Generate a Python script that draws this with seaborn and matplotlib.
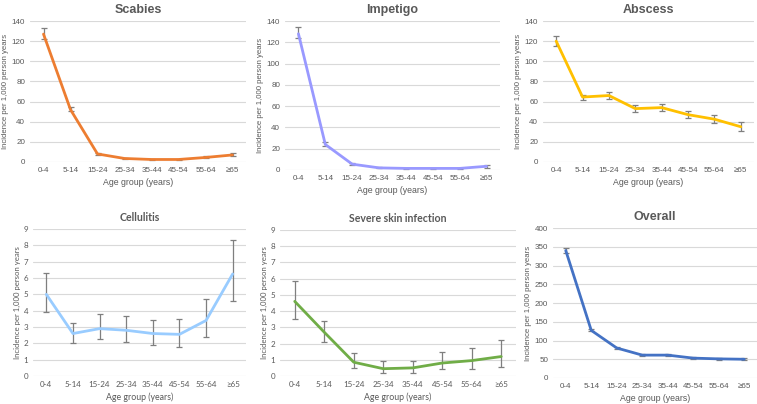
import pandas as pd
import matplotlib
matplotlib.use("Agg")
import matplotlib.pyplot as plt
import seaborn as sns

# Age groups shared by all panels
age_groups = ["0-4", "5-14", "15-24", "25-34", "35-44", "45-54", "55-64", "≥65"]

# Incidence per 1,000 person years, with lower / upper 95% CI
scabies = [127, 52, 8, 3.5, 2.5, 2.5, 4.5, 7]
scabies_lo = [122, 50.5, 7, 3, 2, 2, 3.8, 6]
scabies_hi = [133, 55, 9, 4.2, 3, 3, 5.5, 8.5]

impetigo = [128, 24, 5.5, 2, 1.5, 1.5, 1.5, 3.5]
impetigo_lo = [124, 23, 5, 1.7, 1.2, 1.2, 1.1, 2.3]
impetigo_hi = [134, 26, 6.2, 2.4, 1.8, 1.8, 2, 5]

abscess = [120, 64.5, 66, 53, 54, 47, 42.5, 35]
abscess_lo = [115, 62, 63, 50, 51, 44, 39, 31]
abscess_hi = [125, 67, 70, 57, 58, 51, 47, 40]

cellulitis = [5.0, 2.6, 2.9, 2.8, 2.6, 2.55, 3.4, 6.25]
cellulitis_lo = [3.9, 2.0, 2.25, 2.1, 1.9, 1.8, 2.4, 4.6]
cellulitis_hi = [6.3, 3.25, 3.8, 3.7, 3.45, 3.5, 4.7, 8.3]

severe = [4.6, 2.7, 0.85, 0.45, 0.5, 0.8, 0.95, 1.2]
severe_lo = [3.5, 2.1, 0.5, 0.2, 0.2, 0.45, 0.45, 0.55]
severe_hi = [5.85, 3.4, 1.4, 0.9, 0.95, 1.45, 1.75, 2.25]

overall = [340, 127, 80, 61, 61, 53, 51, 50]
overall_lo = [333, 125, 77, 59, 59, 51, 49, 48]
overall_hi = [347, 130, 83, 63, 63, 55, 53, 53]

W, H = 757, 404
fig = plt.figure(figsize=(W / 100, H / 100), dpi=100)
sns.set_style("white")

arial = ["Liberation Sans", "DejaVu Sans"]
calibri = ["Lato", "DejaVu Sans"]
grey = "#595959"

# title, values, lo, hi, colour, (left, right, top, bottom) in px, ymax, ystep, font, title size
panels = [
    ("Scabies", scabies, scabies_lo, scabies_hi, "#ED7D31", (30, 246, 21, 162), 140, 20, arial, 9),
    ("Impetigo", impetigo, impetigo_lo, impetigo_hi, "#9999FF", (285, 500, 21, 170), 140, 20, arial, 9),
    ("Abscess", abscess, abscess_lo, abscess_hi, "#FFC000", (543, 754, 21, 162), 140, 20, arial, 9),
    ("Cellulitis", cellulitis, cellulitis_lo, cellulitis_hi, "#99CCFF", (33, 246, 229, 376), 9, 1, calibri, 7.6),
    ("Severe skin infection", severe, severe_lo, severe_hi, "#70AD47", (280, 516, 230, 376), 9, 1, calibri, 7.6),
    ("Overall", overall, overall_lo, overall_hi, "#4472C4", (553, 757, 228, 378), 400, 50, arial, 9),
]

for title, vals, lo, hi, col, (l, r, t, b), ymax, ystep, fam, tsize in panels:
    ax = fig.add_axes([l / W, 1 - b / H, (r - l) / W, (b - t) / H])
    df = pd.DataFrame({"x": range(len(age_groups)), "y": vals,
                       "lo": lo, "hi": hi})
    ax.errorbar(df["x"], df["y"], yerr=[df["y"] - df["lo"], df["hi"] - df["y"]],
                fmt="none", ecolor="#7F7F7F", elinewidth=0.9, capsize=2, capthick=0.9, zorder=2)
    sns.lineplot(data=df, x="x", y="y", color=col, linewidth=2, ax=ax, zorder=3)
    ax.set_xlim(-0.5, len(age_groups) - 0.5)
    ax.set_ylim(0, ymax)
    ax.set_yticks(range(0, ymax + 1, ystep))
    ax.set_xticks(range(len(age_groups)))
    ax.set_xticklabels(age_groups)
    ax.yaxis.grid(True, color="#D9D9D9", linewidth=0.8)
    ax.set_axisbelow(True)
    for s in ax.spines.values():
        s.set_visible(False)
    ax.tick_params(length=0, labelsize=5.8, labelcolor=grey, pad=3.5)
    for lab in ax.get_xticklabels() + ax.get_yticklabels():
        lab.set_family(fam)
    ax.set_xlabel("Age group (years)", fontsize=6.3, color=grey, family=fam, labelpad=3)
    ax.set_ylabel("Incidence per 1,000 person years", fontsize=5.6, color=grey, family=fam, labelpad=2)
    ax.set_title(title, fontsize=tsize, fontweight="bold", color=grey, family=fam, pad=6)

fig.savefig("out.png", dpi=100, facecolor="white")
